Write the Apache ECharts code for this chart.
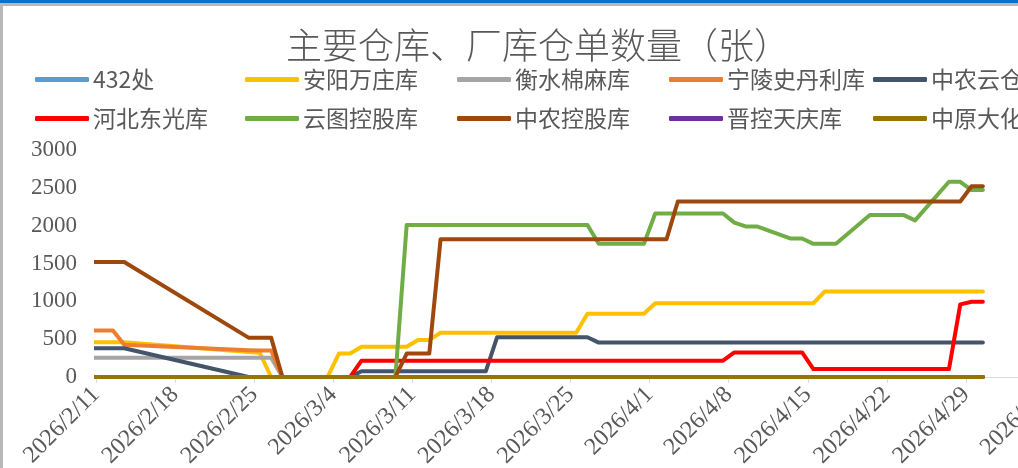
<!DOCTYPE html>
<html><head><meta charset="utf-8">
<script src="https://cdn.jsdelivr.net/npm/echarts@6/dist/echarts.min.js"></script>
<style>html,body{margin:0;padding:0;background:#fff}#c{width:1018px;height:468px}</style>
</head><body><div id="c"></div>
<script>
const dates = ['2026-02-10','2026-02-11','2026-02-12','2026-02-13','2026-02-24','2026-02-25','2026-02-26','2026-02-27',
'2026-03-02','2026-03-03','2026-03-04','2026-03-05','2026-03-06','2026-03-09','2026-03-10','2026-03-11','2026-03-12','2026-03-13',
'2026-03-16','2026-03-17','2026-03-18','2026-03-19','2026-03-20','2026-03-23','2026-03-24','2026-03-25','2026-03-26','2026-03-27',
'2026-03-30','2026-03-31','2026-04-01','2026-04-02','2026-04-03','2026-04-07','2026-04-08','2026-04-09','2026-04-10',
'2026-04-13','2026-04-14','2026-04-15','2026-04-16','2026-04-17','2026-04-20','2026-04-21','2026-04-22','2026-04-23','2026-04-24',
'2026-04-27','2026-04-28','2026-04-29','2026-04-30'];

const names = ['432处','安阳万庄库','衡水棉麻库','宁陵史丹利库','中农云仓','河北东光库','云图控股库','中农控股库','晋控天庆库','中原大化'];
const colors = ['#5b9bd5','#ffc000','#a5a5a5','#ed7d31','#44546a','#ff0000','#70ad47','#9e480e','#7030a0','#997300'];

const s432 = [0,0,0,0,0,0,0,0,0,0,0,0,0,0,0,0,0,0,0,0,0,0,0,0,0,0,0,0,0,0,0,0,0,0,0,0,0,0,0,0,0,0,0,0,0,0,0,0,0,0,0];
const anyang = [460,460,460,460,330,320,0,0,0,0,310,310,400,400,400,490,490,585,585,585,585,585,585,585,585,585,835,835,835,835,975,975,975,975,975,975,975,975,975,975,1130,1130,1130,1130,1130,1130,1130,1130,1130,1130,1130];
const hengshui = [255,255,255,255,255,255,255,0,0,0,0,0,0,0,0,0,0,0,0,0,0,0,0,0,0,0,0,0,0,0,0,0,0,0,0,0,0,0,0,0,0,0,0,0,0,0,0,0,0,0,0];
const ningling = [615,615,615,425,355,350,350,0,0,0,0,0,0,0,0,0,0,0,0,0,0,0,0,0,0,0,0,0,0,0,0,0,0,0,0,0,0,0,0,0,0,0,0,0,0,0,0,0,0,0,0];
const zhongnongyun = [380,380,380,380,0,0,0,0,0,0,0,0,75,75,75,75,75,75,75,75,525,525,525,525,525,525,525,455,455,455,455,455,455,455,455,455,455,455,455,455,455,455,455,455,455,455,455,455,455,455,455];
const hebei = [0,0,0,0,0,0,0,0,0,0,0,0,215,215,215,215,215,215,215,215,215,215,215,215,215,215,215,215,215,215,215,215,215,215,325,325,325,325,325,105,105,105,105,105,105,105,105,105,960,995,995];
const yuntu = [0,0,0,0,0,0,0,0,0,0,0,0,0,0,2010,2010,2010,2010,2010,2010,2010,2010,2010,2010,2010,2010,2010,1760,1760,1760,2160,2160,2160,2160,2040,1990,1990,1830,1830,1760,1760,1760,2140,2140,2140,2140,2070,2580,2580,2470,2470];
const zhongnongkg = [1520,1520,1520,1520,520,520,520,0,0,0,0,0,0,0,310,310,310,1820,1820,1820,1820,1820,1820,1820,1820,1820,1820,1820,1820,1820,1820,1820,2320,2320,2320,2320,2320,2320,2320,2320,2320,2320,2320,2320,2320,2320,2320,2320,2320,2520,2520];
const jinkong = [0,0,0,0,0,0,0,0,0,0,0,0,0,0,0,0,0,0,0,0,0,0,0,0,0,0,0,0,0,0,0,0,0,0,0,0,0,0,0,0,0,0,0,0,0,0,0,0,0,0,0];
const zhongyuan = [0,0,0,0,0,0,0,0,0,0,0,0,0,0,0,0,0,0,0,0,0,0,0,0,0,0,0,0,0,0,0,0,0,0,0,0,0,0,0,0,0,0,0,0,0,0,0,0,0,0,0];
const seriesValues = [s432, anyang, hengshui, ningling, zhongnongyun, hebei, yuntu, zhongnongkg, jinkong, zhongyuan];

const axisStart = '2026-02-11';
const axisEnd = '2026-05-06';
const tickDays = 7;

const DAY = 86400000;
function utc(s){const p=s.split('-').map(Number);return Date.UTC(p[0],p[1]-1,p[2]);}
const base = utc(axisStart);
// points sit in the middle of their day (date axis, "between tick marks")
function dayPos(s){return (utc(s)-base)/DAY + 0.5;}
function fmt(v){const d=new Date(base+Math.round(v)*DAY);return d.getUTCFullYear()+'/'+(d.getUTCMonth()+1)+'/'+d.getUTCDate();}

const legendPos = [[35,68],[245,68],[457,68],[669,68],[873,68],[35,107],[245,107],[457,107],[669,107],[873,107]];

const chart = echarts.init(document.getElementById('c'));
chart.setOption({
  animation:false,
  backgroundColor:'#fff',
  graphic:[
    {type:'rect',shape:{x:0,y:0,width:1018,height:3},style:{fill:'#0f6fc6'},z:100},
    {type:'rect',shape:{x:0,y:3,width:1018,height:3},style:{fill:'#b8b8b8'},z:100},
    {type:'rect',shape:{x:0,y:3,width:3,height:465},style:{fill:'#b8b8b8'},z:100},
    {type:'text',x:538,y:45,style:{text:'主要仓库、厂库仓单数量（张）',fill:'#595959',font:'300 36px "Noto Sans CJK SC"',textAlign:'center',textVerticalAlign:'middle'}}
  ],
  legend: names.map((n,i)=>({
    data:[n], left:legendPos[i][0], top:legendPos[i][1], padding:0,
    icon:'roundRect', itemWidth:54, itemHeight:5, itemGap:0,
    textStyle:{fontSize:23, color:'#595959', fontFamily:'Noto Sans CJK SC', padding:[0,0,0,-1]}
  })),
  grid:{left:96, right:-27, top:150, bottom:91, containLabel:false, outerBoundsMode:'none'},
  xAxis:{
    type:'value', min:0, max:(utc(axisEnd)-base)/DAY, interval:tickDays,
    axisLine:{show:true, lineStyle:{color:'#d9d9d9', width:1}},
    axisTick:{show:true, length:6, lineStyle:{color:'#d9d9d9'}},
    splitLine:{show:false},
    axisLabel:{rotate:45, formatter:fmt, color:'#595959', fontSize:24, fontFamily:'Liberation Serif', margin:14, showMaxLabel:true, showMinLabel:true, hideOverlap:false}
  },
  yAxis:{
    type:'value', min:0, max:3000, interval:500,
    axisLine:{show:false}, axisTick:{show:false}, splitLine:{show:false},
    axisLabel:{color:'#595959', fontSize:23, fontFamily:'Liberation Serif', margin:19, formatter:v=>String(v)}
  },
  series: names.map((n,i)=>({
    name:n, type:'line', symbol:'none', clip:true,
    data: dates.map((d,j)=>[dayPos(d), seriesValues[i][j]]),
    lineStyle:{width:4, color:colors[i], cap:'round', join:'round'},
    itemStyle:{color:colors[i]}
  }))
});
</script></body></html>
